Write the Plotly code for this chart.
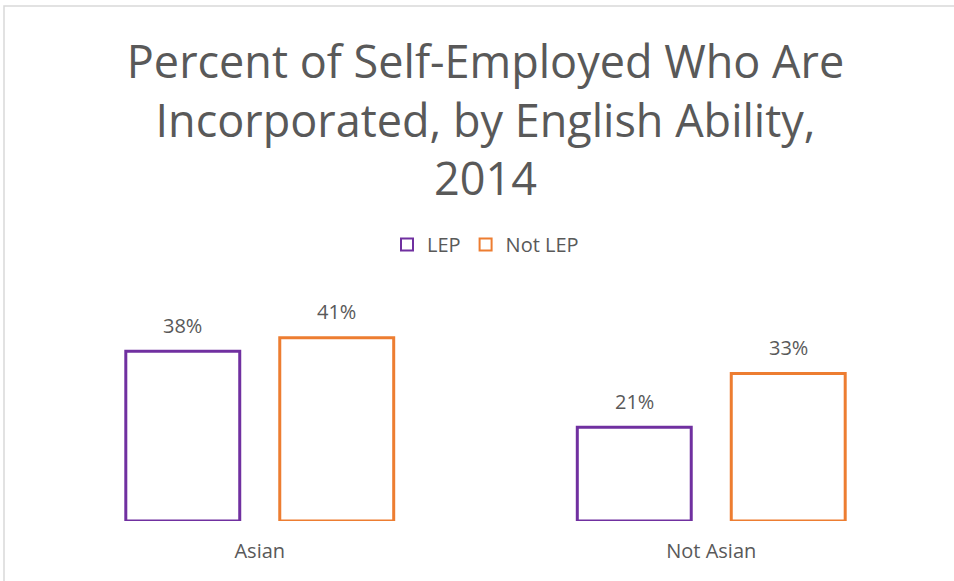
import plotly.graph_objects as go

categories = ["Asian", "Not Asian"]
lep_values = [38, 21]
not_lep_values = [41, 33]
series_names = ["LEP", "Not LEP"]
title_text = "Percent of Self-Employed Who Are<br>Incorporated, by English Ability,<br>2014"

PURPLE = "#7030A0"
ORANGE = "#ED7D31"
GRAY = "#595959"
FONT = "Open Sans"

W, H = 954, 581
ML, MR, MT, MB = 34, 17, 280, 60
BARGAP, GROUPGAP = 0.318, 0.26

fig = go.Figure()
for name, vals, col in [(series_names[0], lep_values, PURPLE), (series_names[1], not_lep_values, ORANGE)]:
    fig.add_trace(go.Bar(
        x=categories, y=vals, name=name,
        marker=dict(color="white", line=dict(color=col, width=3)),
        hoverinfo="x+y",
    ))

# data labels
slot = (1 - BARGAP) / 2
for si, vals in enumerate([lep_values, not_lep_values]):
    off = -slot / 2 if si == 0 else slot / 2
    for ci, v in enumerate(vals):
        fig.add_annotation(x=ci + off, y=v, xref="x", yref="y", text=f"{v}%",
                           showarrow=False, yshift=26, yanchor="middle",
                           font=dict(family=FONT, size=20, color=GRAY))

pw = W - ML - MR
ph = H - MT - MB
def px_x(p):
    return (p - ML) / pw
def px_y(p):
    return (H - MB - p) / ph

fig.add_shape(type="rect", xref="paper", yref="paper",
              x0=px_x(4), x1=px_x(990), y0=px_y(620), y1=px_y(6),
              line=dict(color="#D9D9D9", width=1.5), fillcolor="rgba(0,0,0,0)", layer="below")

fig.update_layout(
    width=W, height=H,
    margin=dict(l=ML, r=MR, t=MT, b=MB),
    paper_bgcolor="white", plot_bgcolor="white",
    title=dict(text=title_text, x=0.5, xanchor="center", xref="paper",
               y=1 - 78 / H, yanchor="top", yref="container",
               font=dict(family=FONT, size=45, color=GRAY)),
    barmode="group", bargap=BARGAP, bargroupgap=GROUPGAP,
    legend=dict(orientation="h", x=0.5, xanchor="center", xref="paper",
                y=1 - 225 / H, yanchor="top", yref="container",
                font=dict(family=FONT, size=20, color=GRAY),
                itemsizing="constant", traceorder="normal"),
    xaxis=dict(showgrid=False, showline=False, zeroline=False, ticks="",
               tickfont=dict(family=FONT, size=20, color=GRAY), ticklabelstandoff=16),
    yaxis=dict(range=[0, ph / 4.47], showgrid=False, showline=False, zeroline=False,
               showticklabels=False, ticks=""),
    showlegend=True,
)

fig.write_html("out.html", config={"displayModeBar": False},
               post_script="document.body.style.margin='0';")
